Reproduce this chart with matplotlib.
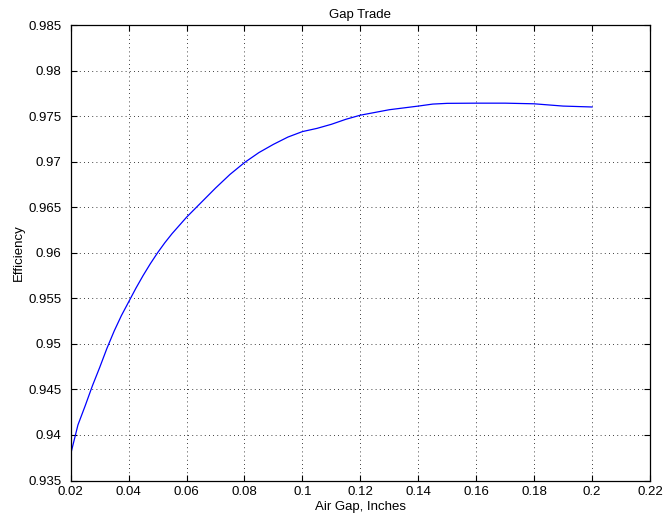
import matplotlib
matplotlib.use("Agg")
import matplotlib.pyplot as plt
import numpy as np

# Air gap (inches) vs. motor efficiency
air_gap = [0.02, 0.0225, 0.025, 0.0275, 0.03, 0.0325, 0.035, 0.0375, 0.04,
           0.0425, 0.045, 0.0475, 0.05, 0.0525, 0.055, 0.0575, 0.06, 0.065,
           0.07, 0.075, 0.08, 0.085, 0.09, 0.095, 0.10, 0.105, 0.11, 0.115,
           0.12, 0.13, 0.14, 0.145, 0.15, 0.16, 0.17, 0.18, 0.19, 0.20]
efficiency = [0.9379, 0.9411, 0.9432, 0.9454, 0.9474, 0.9495, 0.9514, 0.9531,
              0.9546, 0.9561, 0.9575, 0.9588, 0.9600, 0.9611, 0.9621, 0.9630,
              0.9639, 0.9655, 0.9671, 0.9686, 0.9699, 0.9710, 0.9719, 0.9727,
              0.9733, 0.97365, 0.9741, 0.97465, 0.9751, 0.9757, 0.9761,
              0.97632, 0.9764, 0.97642, 0.97642, 0.97635, 0.9761, 0.9760]

x_ticks = [0.02, 0.04, 0.06, 0.08, 0.1, 0.12, 0.14, 0.16, 0.18, 0.2, 0.22]
x_tick_labels = ["0.02", "0.04", "0.06", "0.08", "0.1", "0.12", "0.14",
                 "0.16", "0.18", "0.2", "0.22"]
y_ticks = [0.935, 0.94, 0.945, 0.95, 0.955, 0.96, 0.965, 0.97, 0.975, 0.98, 0.985]
y_tick_labels = ["0.935", "0.94", "0.945", "0.95", "0.955", "0.96", "0.965",
                 "0.97", "0.975", "0.98", "0.985"]

plt.rcParams["font.family"] = ["Liberation Sans", "DejaVu Sans"]
FS = 9.5

fig = plt.figure(figsize=(6.64, 5.19), dpi=100)
ax = fig.add_axes([70.7 / 664, 1 - 480.5 / 519, (650 - 70.7) / 664, (480.5 - 25) / 519])

ax.plot(air_gap, efficiency, color=(0, 0, 1), linewidth=0.9)

ax.set_xlim(0.02, 0.22)
ax.set_ylim(0.935, 0.985)
ax.set_xticks(x_ticks)
ax.set_xticklabels(x_tick_labels)
ax.set_yticks(y_ticks)
ax.set_yticklabels(y_tick_labels)

ax.tick_params(direction="in", length=4, width=0.8, labelsize=FS,
               top=True, right=True, colors="black")
ax.tick_params(axis="x", pad=4)
ax.tick_params(axis="y", pad=6.5)
ax.grid(True, linestyle=(0, (1, 4)), color="black", linewidth=0.6)
for spine in ax.spines.values():
    spine.set_linewidth(0.9)

ax.set_title("Gap Trade", fontsize=FS, pad=5)
ax.set_xlabel("Air Gap, Inches", fontsize=FS, labelpad=2)
ax.set_ylabel("Efficiency", fontsize=FS, labelpad=3)

fig.savefig("out.png", dpi=100, facecolor="white")
